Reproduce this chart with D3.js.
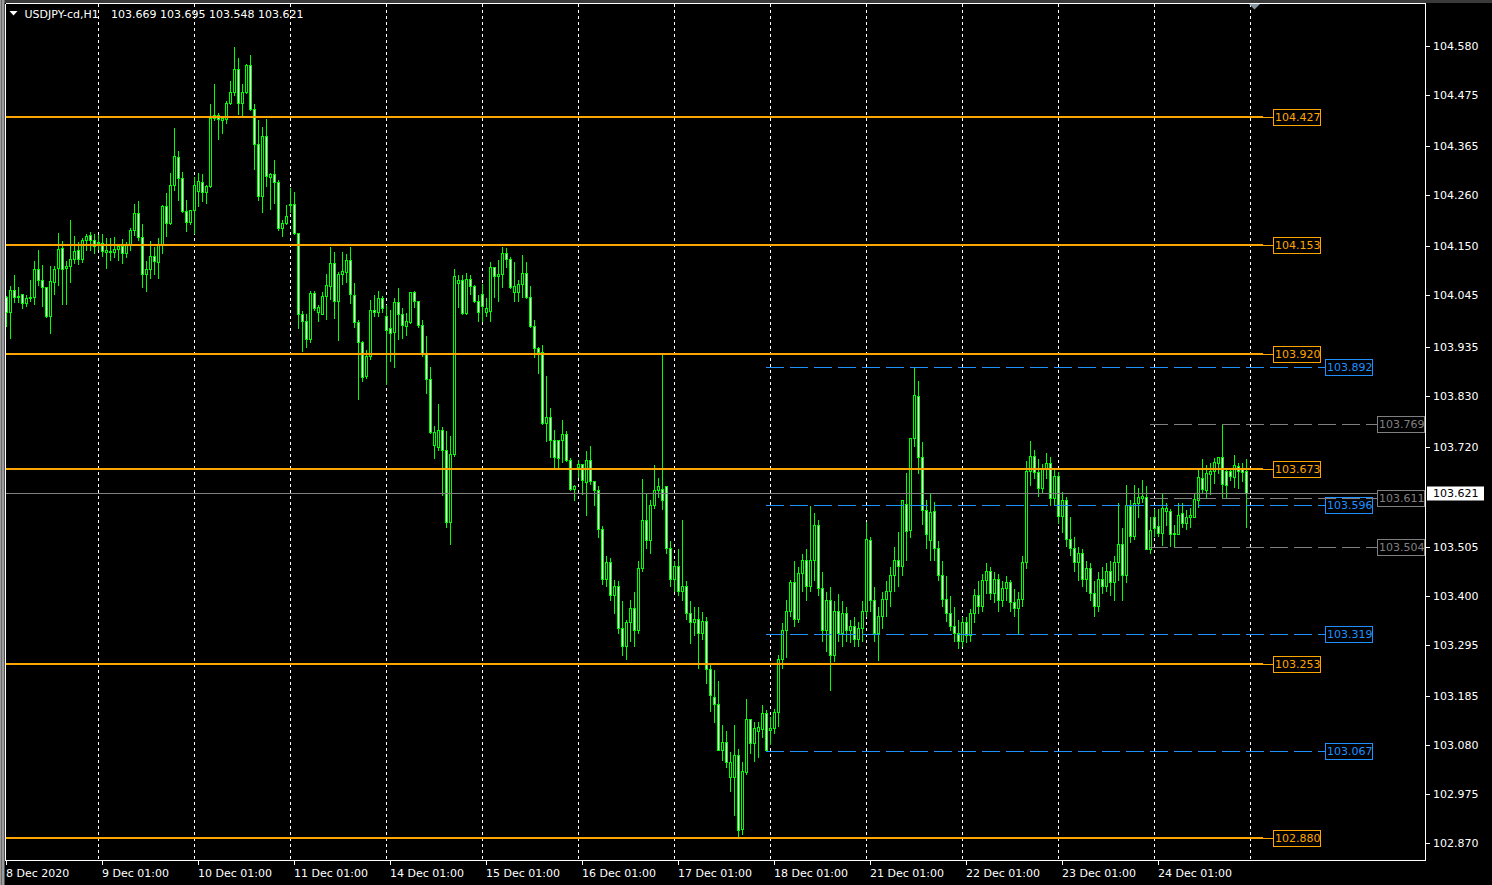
<!DOCTYPE html>
<html><head><meta charset="utf-8">
<script src="https://cdn.jsdelivr.net/npm/d3@7"></script>
<style>
html,body{margin:0;padding:0;background:#000;overflow:hidden;}
svg{display:block;}
text{font-family:"DejaVu Sans",Verdana,sans-serif;font-size:11px;}
</style></head><body>
<script>
// ---------- DATA ----------
const symbolName = "USDJPY-cd,H1";
const headerValues = "103.669 103.695 103.548 103.621";
const opens = [
104.042,104.009,104.057,104.044,104.047,104.029,104.040,104.041,104.101,104.079,
104.062,104.000,104.074,104.103,104.147,104.103,104.108,104.123,104.142,104.124,
104.165,104.174,104.164,104.160,104.158,104.139,104.138,104.139,104.145,104.151,
104.135,104.155,104.185,104.222,104.170,104.090,104.102,104.130,104.117,104.155,
104.236,104.201,104.281,104.343,104.298,104.226,104.203,104.228,104.270,104.289,
104.267,104.280,104.425,104.433,104.421,104.424,104.457,104.481,104.530,104.459,
104.481,104.539,104.446,104.371,104.258,104.387,104.300,104.305,104.289,104.190,
104.201,104.238,104.241,104.179,104.004,103.990,103.951,104.051,104.010,104.006,
104.043,104.066,104.115,104.034,104.091,104.096,104.120,104.046,103.988,103.944,
103.871,103.914,104.013,104.009,104.039,104.000,103.975,103.967,104.031,104.006,
103.980,103.988,104.053,104.032,103.982,103.922,103.866,103.724,103.720,103.757,
103.714,103.558,103.705,104.072,104.079,104.008,104.081,104.065,104.034,104.049,
104.010,104.012,104.105,104.086,104.090,104.137,104.124,104.052,104.052,104.069,
104.094,104.042,103.979,103.932,103.923,103.770,103.784,103.735,103.734,103.734,
103.747,103.691,103.630,103.676,103.684,103.645,103.692,103.646,103.628,103.543,
103.437,103.472,103.401,103.422,103.330,103.293,103.343,103.373,103.326,103.459,
103.562,103.519,103.595,103.628,103.630,103.635,103.502,103.437,103.465,103.411,
103.422,103.364,103.343,103.351,103.321,103.347,103.243,103.182,103.168,103.069,
103.087,103.012,103.012,103.059,102.900,103.021,103.136,103.084,103.110,103.115,
103.149,103.113,103.116,103.150,103.265,103.326,103.368,103.429,103.351,103.450,
103.476,103.422,103.476,103.551,103.416,103.326,103.390,103.272,103.368,103.321,
103.364,103.326,103.336,103.308,103.330,103.368,103.519,103.390,103.321,103.357,
103.394,103.411,103.444,103.476,103.465,103.598,103.542,103.738,103.830,103.697,
103.585,103.519,103.583,103.502,103.444,103.394,103.364,103.336,103.321,103.304,
103.343,103.315,103.364,103.401,103.379,103.433,103.454,103.407,103.437,103.390,
103.416,103.429,103.386,103.373,103.394,103.472,103.669,103.701,103.665,103.631,
103.674,103.686,103.609,103.658,103.572,103.605,103.523,103.502,103.472,103.493,
103.437,103.459,103.407,103.379,103.437,103.422,103.454,103.429,103.472,103.512,
103.444,103.593,103.528,103.599,103.610,103.612,103.501,103.570,103.549,103.534,
103.583,103.583,103.532,103.533,103.578,103.557,103.569,103.569,103.606,103.653,
103.628,103.662,103.667,103.685,103.697,103.669,103.668,103.655,103.678,103.673,
103.669];
const highs = [
104.045,104.068,104.092,104.066,104.049,104.047,104.081,104.122,104.144,104.112,
104.065,104.110,104.110,104.181,104.165,104.120,104.208,104.174,104.161,104.170,
104.178,104.183,104.180,104.176,104.178,104.170,104.170,104.172,104.157,104.168,
104.161,104.192,104.243,104.249,104.200,104.122,104.163,104.151,104.170,104.242,
104.266,104.310,104.407,104.357,104.312,104.253,104.230,104.301,104.309,104.307,
104.284,104.458,104.501,104.439,104.432,104.464,104.507,104.580,104.557,104.500,
104.545,104.564,104.459,104.423,104.408,104.425,104.310,104.337,104.294,104.208,
104.241,104.277,104.269,104.180,104.013,104.008,104.057,104.056,104.026,104.054,
104.093,104.151,104.140,104.097,104.140,104.135,104.151,104.074,103.995,103.950,
103.929,104.037,104.049,104.057,104.045,104.027,104.015,104.042,104.063,104.020,
104.009,104.054,104.057,104.034,103.994,103.959,103.893,103.766,103.814,103.764,
103.755,103.746,104.104,104.092,104.090,104.095,104.090,104.070,104.047,104.072,
104.042,104.118,104.108,104.124,104.151,104.148,104.129,104.118,104.081,104.133,
104.118,104.067,103.994,103.936,103.941,103.875,103.805,103.759,103.737,103.779,
103.755,103.697,103.640,103.694,103.686,103.714,103.723,103.649,103.637,103.551,
103.487,103.484,103.437,103.433,103.390,103.351,103.394,103.411,103.476,103.652,
103.620,103.607,103.684,103.655,103.920,103.636,103.519,103.476,103.502,103.564,
103.433,103.390,103.379,103.379,103.368,103.357,103.256,103.242,103.220,103.125,
103.113,103.066,103.125,103.074,103.046,103.180,103.138,103.132,103.132,103.167,
103.157,103.143,103.159,103.275,103.343,103.394,103.437,103.476,103.465,103.493,
103.502,103.596,103.579,103.566,103.454,103.411,103.422,103.390,103.407,103.390,
103.379,103.351,103.357,103.347,103.390,103.560,103.529,103.422,103.379,103.411,
103.433,103.465,103.508,103.540,103.607,103.665,103.740,103.892,103.864,103.732,
103.607,103.622,103.603,103.519,103.476,103.444,103.401,103.379,103.351,103.357,
103.357,103.373,103.416,103.433,103.450,103.472,103.465,103.454,103.450,103.433,
103.444,103.437,103.416,103.411,103.487,103.691,103.734,103.716,103.695,103.686,
103.708,103.701,103.674,103.669,103.626,103.615,103.572,103.529,103.508,103.502,
103.476,103.472,103.433,103.454,103.465,103.472,103.476,103.487,103.602,103.548,
103.641,103.607,103.641,103.634,103.651,103.637,103.572,103.588,103.588,103.622,
103.602,103.588,103.555,103.602,103.602,103.587,103.590,103.623,103.677,103.696,
103.682,103.688,103.699,103.701,103.769,103.676,103.677,103.704,103.687,103.688,
103.695];
const lows = [
103.979,103.953,104.031,104.031,104.018,104.022,104.033,104.027,104.067,104.022,
103.998,103.964,104.049,104.067,104.026,104.026,104.074,104.115,104.112,104.117,
104.142,104.142,104.137,104.145,104.130,104.104,104.122,104.127,104.120,104.115,
104.127,104.143,104.174,104.163,104.063,104.054,104.083,104.092,104.083,104.135,
104.173,104.199,104.271,104.249,104.223,104.183,104.198,104.180,104.237,104.248,
104.243,104.277,104.421,104.380,104.394,104.415,104.455,104.476,104.435,104.428,
104.479,104.444,104.317,104.249,104.224,104.280,104.231,104.244,104.185,104.173,
104.199,104.224,104.176,103.975,103.925,103.934,103.946,104.013,103.990,104.005,
103.995,104.038,103.996,103.950,104.070,104.074,104.029,103.977,103.822,103.861,
103.868,103.908,104.000,104.000,104.009,103.855,103.904,103.891,103.952,103.954,
103.959,103.986,104.020,103.977,103.915,103.835,103.750,103.696,103.714,103.617,
103.547,103.512,103.700,104.020,104.006,104.006,104.047,104.030,103.991,103.989,
104.000,103.990,104.042,104.034,104.062,104.107,104.061,104.034,104.033,104.042,
104.040,103.977,103.913,103.878,103.768,103.732,103.698,103.675,103.675,103.687,
103.689,103.628,103.606,103.655,103.619,103.574,103.641,103.596,103.526,103.426,
103.422,103.390,103.364,103.321,103.272,103.265,103.304,103.293,103.321,103.454,
103.502,103.493,103.588,103.612,103.587,103.493,103.422,103.411,103.401,103.390,
103.351,103.298,103.315,103.244,103.308,103.212,103.152,103.129,103.068,103.048,
103.032,102.980,102.930,102.883,102.889,103.017,103.062,103.046,103.053,103.097,
103.066,103.082,103.105,103.121,103.244,103.268,103.357,103.336,103.343,103.411,
103.390,103.411,103.433,103.401,103.304,103.282,103.197,103.261,103.304,103.293,
103.304,103.300,103.293,103.293,103.304,103.357,103.368,103.304,103.263,103.330,
103.357,103.379,103.411,103.422,103.444,103.476,103.527,103.721,103.663,103.555,
103.502,103.476,103.476,103.433,103.379,103.347,103.326,103.304,103.287,103.293,
103.300,103.304,103.343,103.364,103.368,103.407,103.394,103.386,103.368,103.379,
103.390,103.368,103.357,103.321,103.379,103.459,103.637,103.652,103.615,103.622,
103.652,103.594,103.594,103.557,103.536,103.508,103.487,103.454,103.433,103.422,
103.411,103.390,103.357,103.368,103.407,103.411,103.401,103.390,103.433,103.390,
103.430,103.515,103.522,103.569,103.601,103.501,103.492,103.529,103.529,103.510,
103.551,103.508,103.505,103.533,103.547,103.544,103.547,103.569,103.590,103.623,
103.612,103.619,103.642,103.663,103.612,103.613,103.648,103.633,103.632,103.646,
103.548];
const closes = [
104.009,104.057,104.042,104.042,104.029,104.040,104.041,104.102,104.079,104.062,
104.000,104.075,104.102,104.145,104.102,104.108,104.124,104.140,104.124,104.165,
104.173,104.163,104.152,104.158,104.141,104.142,104.140,104.145,104.151,104.135,
104.155,104.185,104.221,104.170,104.090,104.102,104.130,104.118,104.155,104.236,
104.201,104.281,104.344,104.298,104.226,104.203,104.228,104.281,104.290,104.267,
104.280,104.426,104.433,104.423,104.426,104.457,104.481,104.530,104.459,104.481,
104.539,104.446,104.371,104.258,104.387,104.301,104.305,104.289,104.190,104.201,
104.215,104.241,104.179,104.004,103.990,103.951,104.051,104.018,104.021,104.043,
104.067,104.115,104.033,104.090,104.097,104.120,104.047,103.988,103.944,103.870,
103.914,104.013,104.010,104.039,104.017,103.971,103.965,104.031,104.006,103.981,
103.989,104.052,104.032,103.982,103.922,103.866,103.751,103.751,103.757,103.714,
103.558,103.705,104.086,104.079,104.008,104.081,104.065,104.032,104.009,104.022,
104.019,104.105,104.087,104.091,104.137,104.124,104.063,104.065,104.069,104.094,
104.042,103.979,103.932,103.923,103.770,103.784,103.735,103.698,103.696,103.747,
103.691,103.630,103.636,103.684,103.649,103.692,103.646,103.628,103.543,103.437,
103.472,103.401,103.422,103.330,103.293,103.343,103.373,103.326,103.459,103.562,
103.519,103.594,103.628,103.635,103.606,103.502,103.437,103.465,103.411,103.422,
103.364,103.343,103.351,103.321,103.347,103.243,103.187,103.168,103.070,103.087,
103.043,103.044,103.059,102.898,103.025,103.136,103.084,103.117,103.119,103.149,
103.068,103.116,103.150,103.265,103.326,103.368,103.429,103.351,103.450,103.476,
103.422,103.476,103.553,103.416,103.326,103.390,103.272,103.368,103.321,103.364,
103.326,103.336,103.308,103.330,103.368,103.523,103.390,103.321,103.357,103.394,
103.411,103.444,103.476,103.465,103.605,103.540,103.738,103.832,103.697,103.585,
103.532,103.581,103.502,103.444,103.394,103.364,103.336,103.321,103.304,103.343,
103.315,103.364,103.401,103.379,103.433,103.454,103.407,103.437,103.390,103.416,
103.429,103.386,103.373,103.394,103.472,103.669,103.701,103.665,103.631,103.674,
103.686,103.609,103.658,103.572,103.605,103.523,103.502,103.472,103.493,103.437,
103.459,103.407,103.379,103.437,103.422,103.454,103.429,103.472,103.512,103.444,
103.596,103.528,103.599,103.612,103.615,103.501,103.542,103.545,103.534,103.589,
103.588,103.533,103.535,103.574,103.557,103.570,103.574,103.607,103.656,103.630,
103.663,103.667,103.688,103.699,103.640,103.637,103.658,103.680,103.668,103.666,
103.621];

const timeLabels = ["8 Dec 2020","9 Dec 01:00","10 Dec 01:00","11 Dec 01:00","14 Dec 01:00","15 Dec 01:00","16 Dec 01:00","17 Dec 01:00","18 Dec 01:00","21 Dec 01:00","22 Dec 01:00","23 Dec 01:00","24 Dec 01:00"];
const timeLabelBars = [0,24,48,72,96,120,144,168,192,216,240,264,288];
const gridBars = [23,47,71,95,119,143,167,191,215,239,263,287,311];
const priceTicks = [104.580,104.475,104.365,104.260,104.150,104.045,103.935,103.830,103.720,103.505,103.400,103.295,103.185,103.080,102.975,102.870];
const orangeLevels = [104.427,104.153,103.920,103.673,103.253,102.880];
const blueLevels = [103.892,103.596,103.319,103.067];
const blueStartBar = 190;
const grayLevels = [103.769,103.611,103.504];
const grayStartBar = 286;
const currentPrice = 103.621;
const totalBars = 311;

// ---------- DRAW ----------
const W = 1492, H = 885;
const L = 5.5, R = 1425.5, T = 3.5, B = 860.5;
const svg = d3.select("body").append("svg").attr("width", W).attr("height", H);
svg.append("rect").attr("width", W).attr("height", H).attr("fill", "#000");
svg.append("rect").attr("x", 0).attr("y", 0).attr("width", W).attr("height", 3).attr("fill", "#3a3a3a");
svg.append("rect").attr("x", 0).attr("y", 0).attr("width", 4.5).attr("height", H).attr("fill", "#9c9c9c");
svg.append("rect").attr("x", 1).attr("y", 0).attr("width", 1).attr("height", H).attr("fill", "#6a6a6a");

const x = d3.scaleLinear().domain([0, totalBars - 1]).range([6.3, 1246.3]);
const y = d3.scaleLinear().domain([102.870, 104.580]).range([842.7, 46.2]);
const px = i => Math.round(x(i)) + 0.5;
const py = v => Math.round(y(v)) + 0.5;

const g = svg.append("g").attr("shape-rendering", "crispEdges");

// vertical grid
g.selectAll(".grid").data(gridBars).join("line")
  .attr("x1", d => px(d)).attr("x2", d => px(d))
  .attr("y1", 4).attr("y2", 860)
  .attr("stroke", "#fff").attr("stroke-dasharray", "3,3");

// candles
const data = opens.map((o, i) => ({i, o, h: highs[i], l: lows[i], c: closes[i]}));
const cg = g.append("g");
cg.selectAll(".wick").data(data).join("line")
  .attr("x1", d => px(d.i)).attr("x2", d => px(d.i))
  .attr("y1", d => py(d.h)).attr("y2", d => py(d.l))
  .attr("stroke", "#00ff00");
cg.selectAll(".body").data(data).join("rect")
  .attr("x", d => px(d.i) - 1)
  .attr("y", d => py(Math.max(d.o, d.c)))
  .attr("width", 2)
  .attr("height", d => Math.max(0, py(Math.min(d.o, d.c)) - py(Math.max(d.o, d.c))))
  .attr("fill", d => d.c < d.o ? "#fff" : "#000")
  .attr("stroke", "#00ff00");

// current price line
g.append("line").attr("x1", 6).attr("x2", R).attr("y1", py(currentPrice)).attr("y2", py(currentPrice))
  .attr("stroke", "#808080");

// orange levels
const og = g.append("g");
orangeLevels.forEach(v => {
  const yy = Math.round(y(v));
  og.append("line").attr("x1", 6).attr("x2", 1263).attr("y1", yy).attr("y2", yy)
    .attr("stroke", "#ffa500").attr("stroke-width", 2);
  og.append("line").attr("x1", 1263).attr("x2", 1273).attr("y1", yy + 0.5).attr("y2", yy + 0.5)
    .attr("stroke", "#ffa500");
  og.append("rect").attr("x", 1273.5).attr("y", yy - 7.5).attr("width", 47).attr("height", 16)
    .attr("fill", "#000").attr("stroke", "#ffa500");
  og.append("text").attr("x", 1275).attr("y", yy + 0.5).attr("dy", "0.36em").attr("fill", "#ffa500").text(v.toFixed(3));
});

// blue dashed levels
blueLevels.forEach(v => {
  const yy = py(v);
  g.append("line").attr("x1", px(blueStartBar) - 0.5).attr("x2", 1325.5).attr("y1", yy).attr("y2", yy)
    .attr("stroke", "#1e90ff").attr("stroke-dasharray", "18,6");
  g.append("rect").attr("x", 1325.5).attr("y", yy - 8).attr("width", 47).attr("height", 16)
    .attr("fill", "#000").attr("stroke", "#1e90ff");
  g.append("text").attr("x", 1327).attr("y", yy).attr("dy", "0.36em").attr("fill", "#1e90ff").text(v.toFixed(3));
});

// gray dashed levels
grayLevels.forEach(v => {
  const yy = py(v);
  g.append("line").attr("x1", px(grayStartBar) - 0.5).attr("x2", 1377.5).attr("y1", yy).attr("y2", yy)
    .attr("stroke", "#808080").attr("stroke-dasharray", "18,6");
  g.append("rect").attr("x", 1377.5).attr("y", yy - 8).attr("width", 47).attr("height", 16)
    .attr("fill", "#000").attr("stroke", "#808080");
  g.append("text").attr("x", 1379).attr("y", yy).attr("dy", "0.36em").attr("fill", "#808080").text(v.toFixed(3));
});

// frame
g.append("line").attr("x1", L).attr("x2", L).attr("y1", T).attr("y2", B).attr("stroke", "#fff");
g.append("line").attr("x1", L).attr("x2", R).attr("y1", T).attr("y2", T).attr("stroke", "#fff");
g.append("line").attr("x1", R).attr("x2", R).attr("y1", T).attr("y2", B).attr("stroke", "#fff");
g.append("line").attr("x1", L).attr("x2", R).attr("y1", B).attr("y2", B).attr("stroke", "#fff");

// price axis
priceTicks.forEach(v => {
  const yy = py(v);
  g.append("line").attr("x1", R).attr("x2", R + 4).attr("y1", yy).attr("y2", yy).attr("stroke", "#fff");
  svg.append("text").attr("x", 1433).attr("y", yy).attr("dy", "0.36em").attr("fill", "#fff").text(v.toFixed(3));
});
// current price label
svg.append("rect").attr("x", 1427).attr("y", py(currentPrice) - 7).attr("width", 57).attr("height", 14).attr("fill", "#fff");
svg.append("text").attr("x", 1433).attr("y", py(currentPrice)).attr("dy", "0.36em").attr("fill", "#000").text(currentPrice.toFixed(3));

// time axis
timeLabels.forEach((t, k) => {
  const xx = px(timeLabelBars[k]);
  g.append("line").attr("x1", xx).attr("x2", xx).attr("y1", B).attr("y2", B + 4).attr("stroke", "#fff");
  svg.append("text").attr("x", xx - 0.5).attr("y", 877).attr("fill", "#fff").text(t);
});

// header
svg.append("path").attr("d", "M9.5,11 L17.5,11 L13.5,15.5 Z").attr("fill", "#fff");
svg.append("text").attr("x", 24.5).attr("y", 17.5).attr("fill", "#fff").text(symbolName);
svg.append("text").attr("x", 111).attr("y", 17.5).attr("fill", "#fff").text(headerValues);
// chart shift marker
svg.append("path").attr("d", "M1249,4 L1260,4 L1254.5,9.5 Z").attr("fill", "#8896a4");
</script>
</body></html>
